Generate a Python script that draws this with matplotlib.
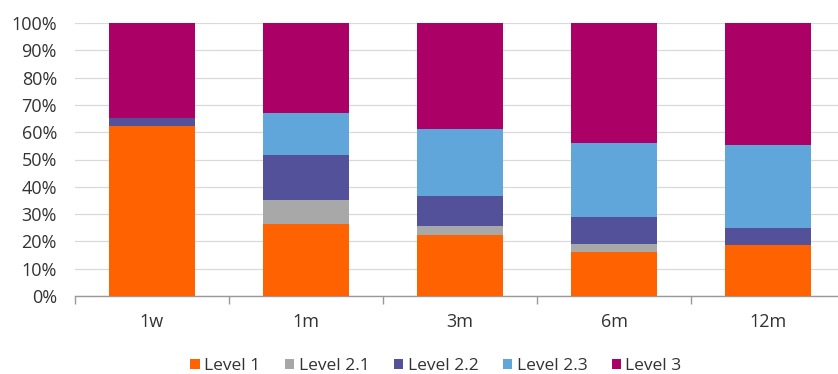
import matplotlib.pyplot as plt
import numpy as np

# share of each level by tenor (%)
tenors = ["1w", "1m", "3m", "6m", "12m"]
series = ["Level 1", "Level 2.1", "Level 2.2", "Level 2.3", "Level 3"]
level_1 = [62.2, 26.2, 22.3, 16.3, 18.5]
level_2_1 = [0.0, 9.0, 3.4, 2.9, 0.0]
level_2_2 = [3.1, 16.3, 11.0, 9.7, 6.3]
level_2_3 = [0.0, 15.4, 24.3, 27.2, 30.5]
level_3 = [34.7, 33.1, 39.0, 43.9, 44.7]
colors = ["#FF6200", "#A8A8A8", "#525199", "#60A6DA", "#AB0066"]

plt.rcParams['font.family'] = ['Open Sans', 'DejaVu Sans']

fig = plt.figure(figsize=(8.38, 3.74), dpi=100)
ax = fig.add_axes([75 / 838, 78 / 374, 770 / 838, 273 / 374])

x = np.arange(len(tenors))
bottom = np.zeros(len(tenors))
for name, vals, c in zip(series, [level_1, level_2_1, level_2_2, level_2_3, level_3], colors):
    ax.bar(x, vals, width=0.555, bottom=bottom, color=c, label=name, zorder=3)
    bottom += np.array(vals)

ax.set_xlim(-0.5, 4.5)
ax.set_ylim(0, 100)
ax.set_yticks(np.arange(0, 101, 10))
ax.set_yticklabels([f"{v}%" for v in range(0, 101, 10)])
ax.yaxis.grid(True, color="#d9d9d9", linewidth=0.9, zorder=0)
ax.tick_params(axis="y", length=0, labelsize=13, labelcolor="#333333", pad=13)

ax.set_xticks(x)
ax.set_xticklabels(tenors)
ax.set_xticks(np.arange(-0.5, 4.6, 1), minor=True)
ax.tick_params(axis="x", which="major", length=0, labelsize=13, labelcolor="#333333", pad=12)
ax.tick_params(axis="x", which="minor", length=5.5, color="#999999", width=1)

for side in ["top", "right", "left"]:
    ax.spines[side].set_visible(False)
ax.spines["bottom"].set_color("#999999")
ax.spines["bottom"].set_linewidth(1)

handles, labels = ax.get_legend_handles_labels()
fig.legend(handles, labels, loc="center", bbox_to_anchor=(436 / 838, 1 - 366 / 374), ncol=5,
           frameon=False, fontsize=12.5, handlelength=0.55, handleheight=0.55,
           handletextpad=0.25, columnspacing=1.4, labelcolor="#333333")

plt.savefig("out.png", dpi=100)
plt.close()
